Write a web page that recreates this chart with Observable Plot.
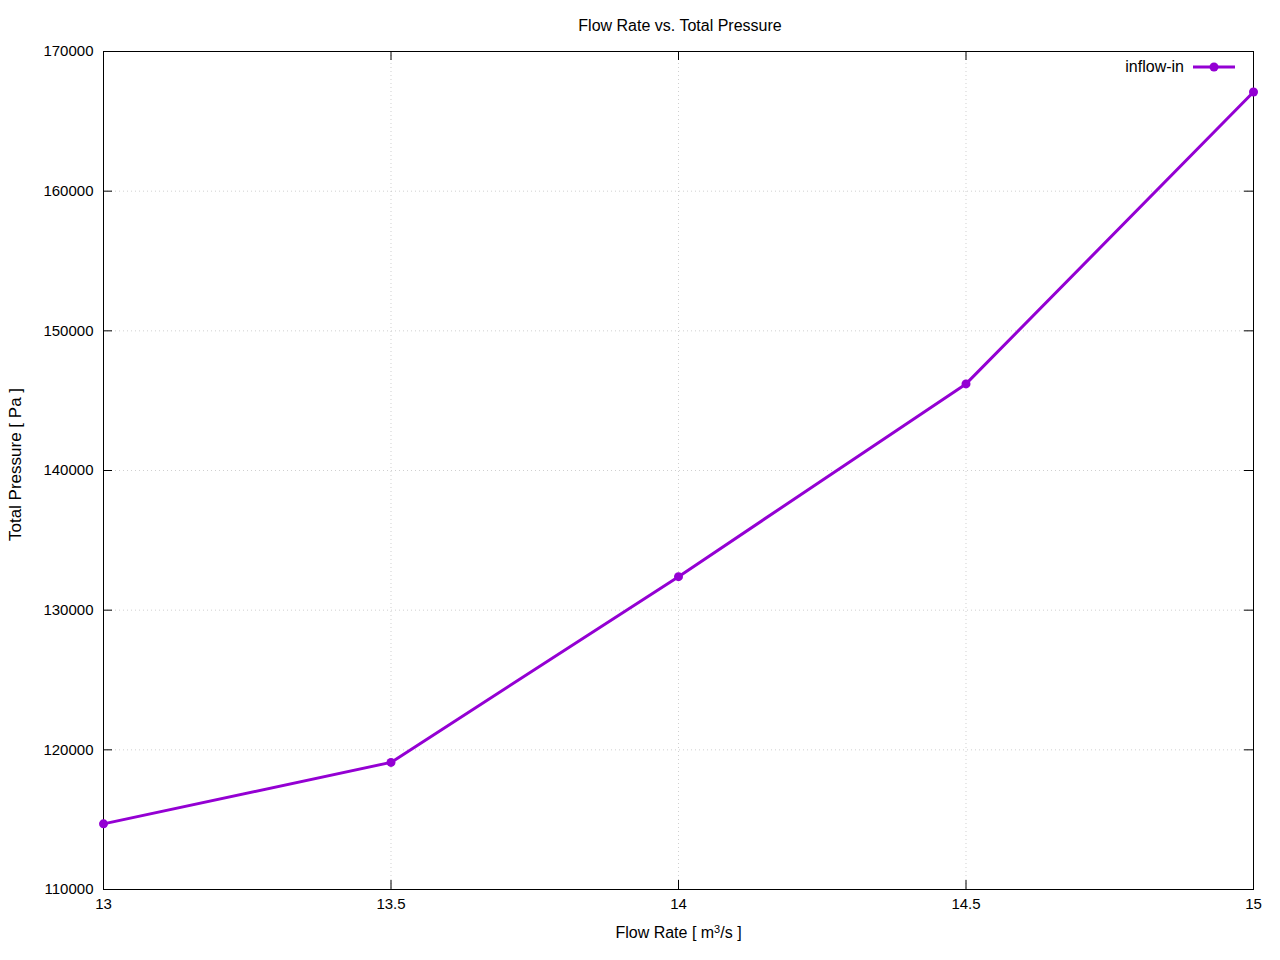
<!DOCTYPE html>
<html>
<head>
<meta charset="utf-8">
<script src="https://cdn.jsdelivr.net/npm/d3@7"></script>
<script src="https://cdn.jsdelivr.net/npm/@observablehq/plot@0.6"></script>
<style>
  html, body { margin: 0; padding: 0; background: #fff; }
  #wrap { position: relative; width: 1280px; height: 960px; font-family: "Liberation Sans", Arial, sans-serif; }
  #title { position: absolute; top: 17px; left: 0; width: 1360px; text-align: center; font-size: 16px; color: #000; }
  #legend { position: absolute; top: 58px; right: 44px; display: flex; align-items: center; font-size: 16px; color: #000; }
  #legend svg { margin-left: 8px; }
</style>
</head>
<body>
<div id="wrap">
  <div id="title">Flow Rate vs. Total Pressure</div>
  <div id="chart"></div>
  <div id="legend"><span>inflow-in</span><svg width="44" height="10"><line x1="1" y1="5" x2="43" y2="5" stroke="#9400d3" stroke-width="3"/><circle cx="22" cy="5" r="4.5" fill="#9400d3"/></svg></div>
</div>
<script>
const flowRate = [13, 13.5, 14, 14.5, 15];
const totalPressure = [114700, 119100, 132400, 146200, 167100];
const xTicks = [13, 13.5, 14, 14.5, 15];
const yTicks = [110000, 120000, 130000, 140000, 150000, 160000, 170000];
const seriesName = "inflow-in";
const color = "#9400d3";

const data = flowRate.map((x, i) => ({x, y: totalPressure[i], series: seriesName}));

const W = 1280, H = 960;
const mL = 103, mR = 27, mT = 51, mB = 71;
const fw = W - mL - mR, fh = H - mT - mB;
const tick = 9;

const chart = Plot.plot({
  width: W,
  height: H,
  marginLeft: mL,
  marginRight: mR,
  marginTop: mT,
  marginBottom: mB,
  style: {fontFamily: "'Liberation Sans', Arial, sans-serif", fontSize: "15px", background: "#fff", color: "#000"},
  x: {domain: [13, 15], ticks: xTicks},
  y: {domain: [110000, 170000], ticks: yTicks},
  marks: [
    Plot.gridX(xTicks, {stroke: "#bbb", strokeOpacity: 1, strokeWidth: 0.7, strokeDasharray: "1,3"}),
    Plot.gridY(yTicks, {stroke: "#bbb", strokeOpacity: 1, strokeWidth: 0.7, strokeDasharray: "1,3"}),
    Plot.tickX(xTicks, {x: d => d, insetTop: fh - tick, stroke: "#000"}),
    Plot.tickX(xTicks, {x: d => d, insetBottom: fh - tick, stroke: "#000"}),
    Plot.tickY(yTicks, {y: d => d, insetRight: fw - tick, stroke: "#000"}),
    Plot.tickY(yTicks, {y: d => d, insetLeft: fw - tick, stroke: "#000"}),
    Plot.axisX(xTicks, {tickSize: 0, tickPadding: 9, tickFormat: d => String(d), fontSize: 15, label: null}),
    Plot.axisY(yTicks, {tickSize: 0, tickPadding: 10, tickFormat: d => String(d), fontSize: 15, label: null}),
    Plot.text(["Flow Rate [ m³/s ]"], {frameAnchor: "bottom", lineAnchor: "middle", textAnchor: "middle", dy: 43, fontSize: 16}),
    Plot.text(["Total Pressure [ Pa ]"], {frameAnchor: "left", lineAnchor: "middle", textAnchor: "middle", dx: -88, dy: -6, rotate: -90, fontSize: 17}),
    Plot.frame({stroke: "#000", strokeWidth: 1}),
    Plot.line(data, {x: "x", y: "y", stroke: color, strokeWidth: 3}),
    Plot.dot(data, {x: "x", y: "y", r: 4.5, fill: color, stroke: "none"})
  ]
});
// render the superscript 3 as a raised, smaller glyph, as in the reference
d3.select(chart).selectAll("text").filter(function() { return this.textContent === "Flow Rate [ m³/s ]"; })
  .each(function() {
    const t = d3.select(this);
    t.text(null);
    t.append("tspan").text("Flow Rate [ m");
    t.append("tspan").attr("dy", "-5").attr("font-size", "11px").text("3");
    t.append("tspan").attr("dy", "5").text("/s ]");
  });
document.getElementById("chart").appendChild(chart);
</script>
</body>
</html>
